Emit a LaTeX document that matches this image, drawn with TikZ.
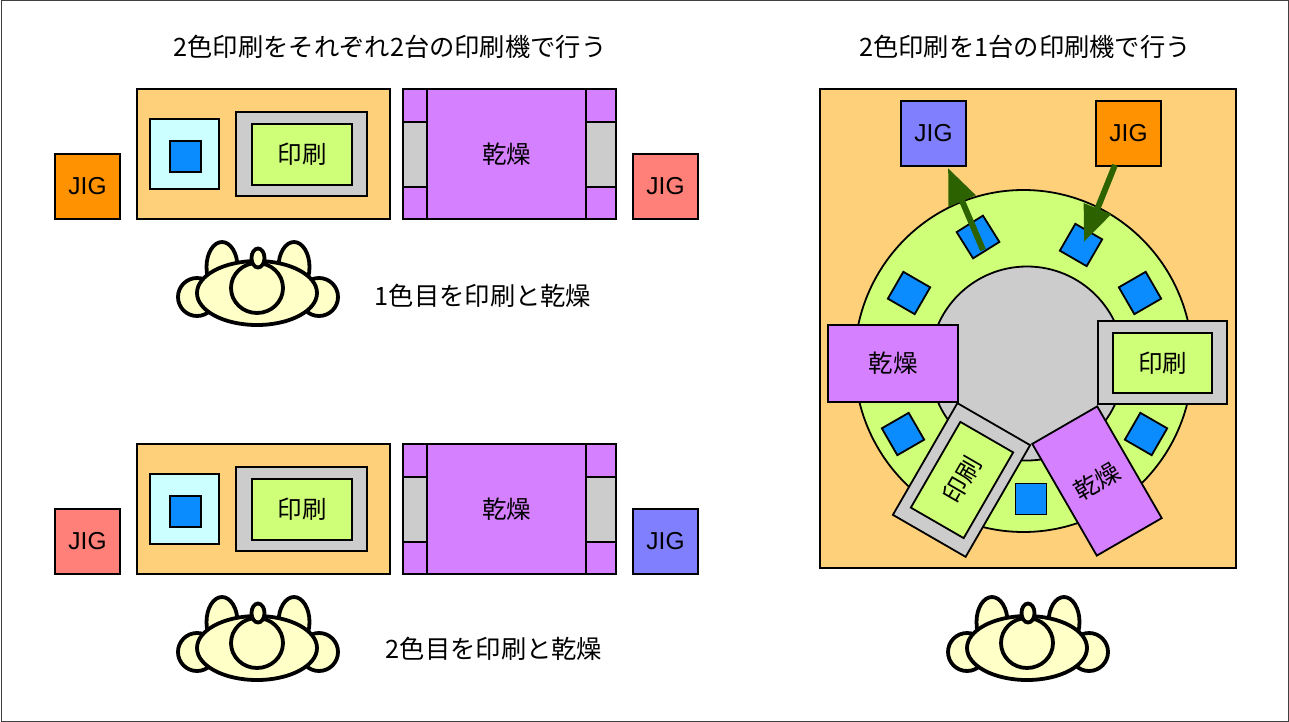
\documentclass[tikz,border=0pt]{standalone}
\usepackage{fontspec}
\setmainfont{Noto Sans CJK JP}
\newfontfamily\jigfont{Liberation Sans}
\usetikzlibrary{arrows.meta}
\definecolor{panelc}{HTML}{FFD07A}
\definecolor{limec}{HTML}{CFFF78}
\definecolor{purplec}{HTML}{D580FF}
\definecolor{cyanc}{HTML}{CCFFFF}
\definecolor{bluec}{HTML}{0A8CFF}
\definecolor{grayc}{HTML}{CCCCCC}
\definecolor{jigo}{HTML}{FF9200}
\definecolor{jigr}{HTML}{FF8078}
\definecolor{jigb}{HTML}{8080FF}
\definecolor{headc}{HTML}{FFFFC8}
\definecolor{arrowc}{HTML}{2D6200}
\newcommand{\bx}[7][]{%
  \pgfmathsetmacro{\bw}{#5-#3}\pgfmathsetmacro{\bh}{#6-#4}%
  \pgfmathsetmacro{\cx}{(#5+#3)/2}\pgfmathsetmacro{\cy}{(#6+#4)/2}%
  \node[boxn,#1,minimum width=\bw pt,minimum height=\bh pt] (#2) at (\cx,\cy) {#7};}
\tikzset{
  boxn/.style={draw=black,line width=1.8pt,inner sep=0pt,outer sep=0pt,font=\fontsize{24.5}{24.5}\selectfont,text=black},
  jig/.style={font=\jigfont\fontsize{24.5}{24.5}\selectfont},
  titletext/.style={font=\fontsize{25.3}{25.3}\selectfont,inner sep=0pt,text=black},
  chip/.style={boxn,fill=bluec,minimum width=31pt,minimum height=31pt},
  movearrow/.style={draw=arrowc,line width=6pt,-{Triangle[length=36pt,width=28pt]}},
  pers/.style={draw=black,line width=3.8pt,fill=headc},
  person/.pic={
    \draw[pers] (-35,-26) ellipse[x radius=15.5,y radius=25];
    \draw[pers] (37,-26) ellipse[x radius=15.5,y radius=25];
    \draw[pers] (-60,4) ellipse[x radius=19,y radius=19];
    \draw[pers] (62,4) ellipse[x radius=19,y radius=19];
    \draw[pers] (0,0) ellipse[x radius=60,y radius=32];
    \draw[pers] (0,-5) ellipse[x radius=26,y radius=25];
    \draw[pers] (1,-35) ellipse[x radius=6.5,y radius=9.5];
  }
}
\newcommand{\machine}[4]{% #1 prefix, #2 y offset, #3 left jig colour, #4 right jig colour
  \begin{scope}[yshift=-#2pt]
  \bx[fill=#3,jig]{#1jl}{55}{154}{120}{219}{JIG}
  \bx[fill=panelc]{#1panel}{137}{89}{390}{219}{}
  \bx[fill=cyanc]{#1cy}{150}{119}{219}{189}{}
  \bx[fill=bluec]{#1chip}{170}{141}{201}{172}{}
  \bx[fill=grayc]{#1pg}{236}{112}{367}{196}{}
  \bx[fill=limec]{#1pr}{252}{124}{352}{185}{印刷}
  \bx[fill=purplec]{#1dout}{403}{89}{616}{219}{}
  \bx[fill=grayc]{#1gl}{403}{122}{427}{187}{}
  \bx[fill=grayc]{#1gr}{586}{122}{616}{187}{}
  \bx[fill=purplec]{#1dry}{427}{89}{586}{219}{乾燥}
  \bx[fill=#4,jig]{#1jr}{633}{154}{698}{219}{JIG}
  \end{scope}}
\begin{document}
\begin{tikzpicture}[x=1pt,y=-1pt]
\useasboundingbox (0,0) rectangle (1289,722);
\draw[draw=black!75,line width=1pt,fill=white] (1,1) rectangle (1288,721);
\node[titletext] (t1) at (390,47) {2色印刷をそれぞれ2台の印刷機で行う};
\node[titletext] (t2) at (1025,47) {2色印刷を1台の印刷機で行う};
\node[titletext] (t3) at (483,296) {1色目を印刷と乾燥};
\node[titletext] (t4) at (494,649) {2色目を印刷と乾燥};
\machine{a}{0}{jigo}{jigr}
\machine{b}{355}{jigr}{jigb}
\pic at (257,293) {person};
\pic at (257,648) {person};
\pic at (1027,648) {person};
% right machine
\bx[fill=panelc]{base}{820}{89}{1236}{568}{}
\draw[draw=black,line width=1.8pt,fill=limec] (1023.5,361) ellipse[x radius=169,y radius=171];
\draw[draw=black,line width=1.8pt,fill=grayc] (1027,363.5) circle[radius=97];
\node[chip,rotate=32] (c1) at (978,237) {};
\node[chip,rotate=-30] (c2) at (1081,245) {};
\node[chip,rotate=-30] (c3) at (909,293) {};
\node[chip,rotate=30] (c4) at (1140,293) {};
\node[chip,rotate=30] (c5) at (903,434) {};
\node[chip,rotate=-30] (c6) at (1146,434) {};
\node[chip] (c7) at (1031,499) {};
\bx[fill=purplec]{d1}{828}{325}{958}{402}{乾燥}
\bx[fill=grayc]{p1}{1098}{321}{1227}{404}{}
\bx[fill=limec]{p1i}{1113}{333}{1212}{393}{印刷}
\node[boxn,fill=grayc,rotate=60,minimum width=129pt,minimum height=84pt] (p2) at (961.5,480) {};
\node[boxn,fill=limec,rotate=60,minimum width=99pt,minimum height=61pt] (p2i) at (962,480) {印刷};
\node[boxn,fill=purplec,rotate=30,minimum width=75pt,minimum height=129pt] (d2) at (1097,481) {乾燥};
\bx[fill=jigb,jig]{j1}{901}{101}{966}{166}{JIG}
\bx[fill=jigo,jig]{j2}{1096}{101}{1161}{166}{JIG}
\coordinate (a1s) at (983,250);
\coordinate (a1e) at (948,168);
\coordinate (a2s) at (1115,165);
\coordinate (a2e) at (1084,242);
\draw[movearrow] (a1s) -- (a1e);
\draw[movearrow] (a2s) -- (a2e);
\end{tikzpicture}
\end{document}
